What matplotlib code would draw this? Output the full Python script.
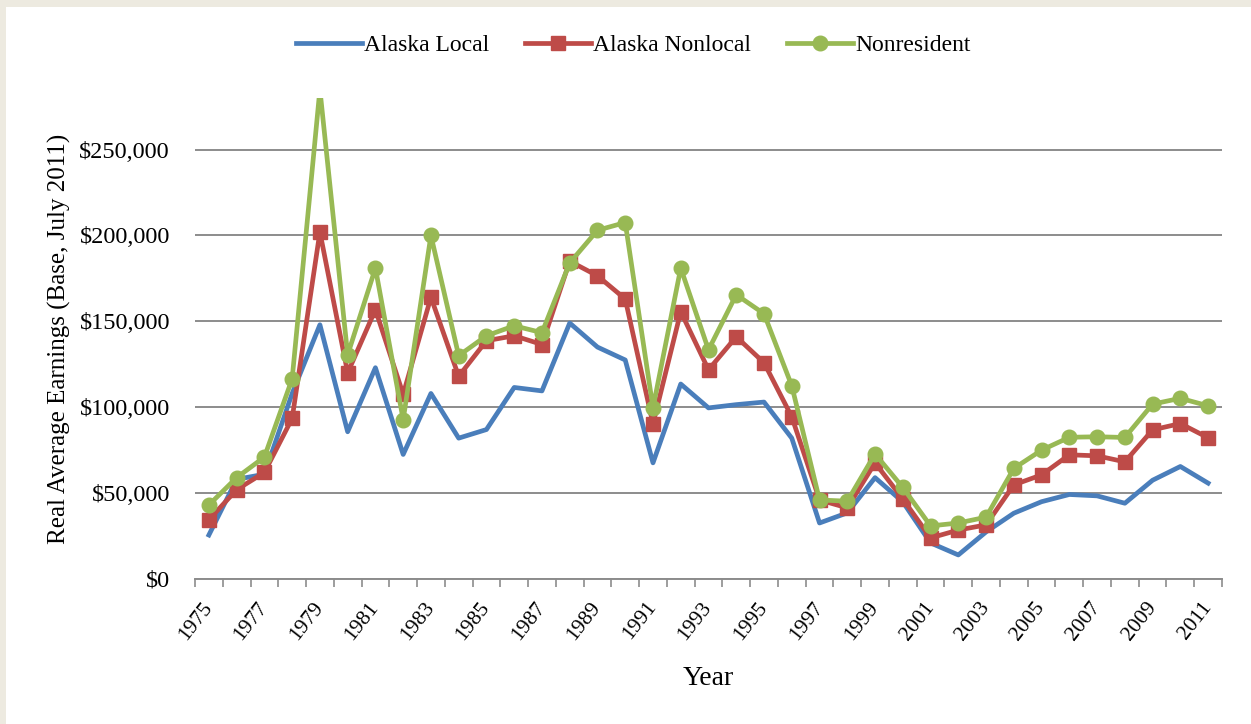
import matplotlib
matplotlib.use("Agg")
import matplotlib.pyplot as plt
from matplotlib.patches import Rectangle
from matplotlib.ticker import FuncFormatter, FixedLocator

years = list(range(1975, 2012))
alaska_local = [25600, 58000, 61000, 108000, 148000, 85700, 123000, 72500, 108000, 82000,
                87000, 111500, 109500, 149000, 135000, 127500, 67600, 113500, 99600, 101500,
                103000, 82000, 32600, 38500, 59000, 44900, 21000, 14000, 27400, 38300,
                45000, 49200, 48400, 44100, 57500, 65500, 55800]
alaska_nonlocal = [34500, 52000, 62000, 93500, 202000, 120000, 156800, 107500, 164000, 118000,
                   138700, 141600, 136500, 185000, 176500, 163000, 90300, 155600, 121800, 141000,
                   125900, 94400, 46000, 41400, 67600, 46600, 23900, 28500, 31500, 54800,
                   60600, 72300, 71700, 68200, 86800, 90500, 82200]
nonresident = [43100, 59000, 71000, 116500, 285000, 130500, 181000, 92700, 200000, 130000,
               141600, 147400, 143400, 184000, 203000, 207500, 99600, 181000, 133400, 165500,
               154400, 112500, 46000, 45300, 72800, 53300, 30900, 32600, 36000, 64400,
               75000, 82500, 82800, 82400, 101800, 105200, 100800]

C_BLUE = "#4A7EBB"
C_RED = "#BE4B48"
C_GREEN = "#98B954"
FONT = "Liberation Serif"

fig = plt.figure(figsize=(12.51, 7.24), dpi=100)
fig.patch.set_facecolor("white")
W, H = 1251, 724
fig.patches.append(Rectangle((0, 1 - 7 / H), 1, 7 / H, transform=fig.transFigure,
                             facecolor="#EDEAE0", edgecolor="none", zorder=0))
fig.patches.append(Rectangle((0, 0), 6 / W, 1, transform=fig.transFigure,
                             facecolor="#EDEAE0", edgecolor="none", zorder=0))

ax = fig.add_axes([195 / W, 1 - 579 / H, (1222 - 195) / W, (579 - 98) / H])
x = list(range(len(years)))

ax.plot(x, alaska_local, color=C_BLUE, lw=3.4, label="Alaska Local", zorder=3)
ax.plot(x, alaska_nonlocal, color=C_RED, lw=3.4, marker="s", ms=10, mec=C_RED, mfc=C_RED,
        label="Alaska Nonlocal", zorder=4)
ax.plot(x, nonresident, color=C_GREEN, lw=3.4, marker="o", ms=10.5, mec=C_GREEN, mfc=C_GREEN,
        label="Nonresident", zorder=5)

ax.set_xlim(-0.5, len(years) - 0.5)
ax.set_ylim(0, 280000)
ax.set_yticks([0, 50000, 100000, 150000, 200000, 250000])
ax.yaxis.set_major_formatter(FuncFormatter(lambda v, p: "${:,.0f}".format(v)))
ax.grid(axis="y", color="#8C8C8C", lw=1.4)
ax.set_axisbelow(True)

ax.set_xticks(x[::2])
ax.set_xticklabels([str(y) for y in years[::2]], rotation=52, ha="right", va="center",
                   rotation_mode="anchor", fontsize=15.5, family=FONT)
ax.xaxis.set_minor_locator(FixedLocator([i - 0.5 for i in range(len(years) + 1)]))
ax.tick_params(axis="x", which="major", length=0, pad=18)
ax.tick_params(axis="x", which="minor", length=6, width=1.2, color="#8C8C8C")
ax.tick_params(axis="y", length=0, pad=18, labelsize=17.5)
for lab in ax.get_yticklabels():
    lab.set_family(FONT)

for s in ["top", "right", "left"]:
    ax.spines[s].set_visible(False)
ax.spines["bottom"].set_color("#8C8C8C")
ax.spines["bottom"].set_linewidth(1.4)

ax.set_ylabel("Real Average Earnings (Base, July 2011)", fontsize=18, family=FONT, labelpad=6)
ax.set_xlabel("Year", fontsize=20, family=FONT, labelpad=16)

leg = fig.legend(loc="center", bbox_to_anchor=(633 / W, 1 - 45 / H), ncol=3, frameon=False,
                 prop={"family": FONT, "size": 17}, handlelength=2.8, handletextpad=0.1,
                 columnspacing=1.5)

fig.savefig("out.png", dpi=100)
